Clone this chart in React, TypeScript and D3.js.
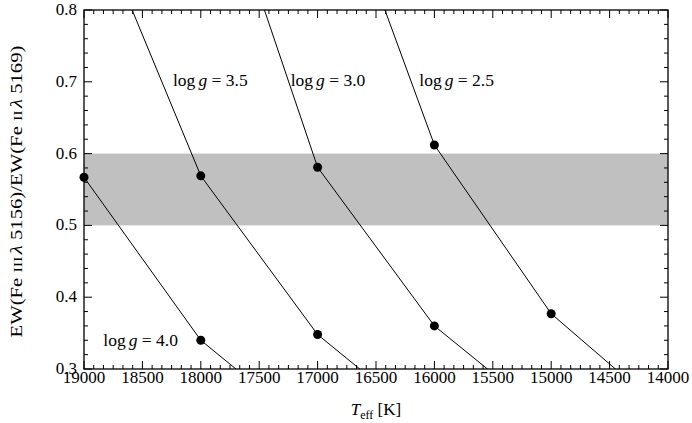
import React from "react";
import * as d3 from "d3";

const W = 692;
const H = 423;
const margin = { left: 84, right: 24, top: 10, bottom: 54 };

// Temperature grid (K) and line ratios for each log g model
const tempsG40 = [20000, 19000, 18000, 17000];
const ratioG40 = [1.02, 0.567, 0.34, 0.207];
const tempsG35 = [19000, 18000, 17000, 16000];
const ratioG35 = [0.962, 0.569, 0.348, 0.215];
const tempsG30 = [18000, 17000, 16000, 15000];
const ratioG30 = [1.062, 0.581, 0.36, 0.228];
const tempsG25 = [17000, 16000, 15000, 14000];
const ratioG25 = [1.056, 0.612, 0.377, 0.237];

const seriesLabels = ["4.0", "3.5", "3.0", "2.5"];
// label anchor in data units (T, ratio)
const labelT = [18835, 18238, 17230, 16129];
const labelR = [0.3315, 0.694, 0.694, 0.694];

const bandLow = 0.5;
const bandHigh = 0.6;

const xTicks = [19000, 18500, 18000, 17500, 17000, 16500, 16000, 15500, 15000, 14500, 14000];
const yTicks = [0.3, 0.4, 0.5, 0.6, 0.7, 0.8];

const FONT = "Liberation Serif";

export default function App() {
  const x = d3.scaleLinear().domain([19000, 14000]).range([margin.left, W - margin.right]);
  const y = d3.scaleLinear().domain([0.3, 0.8]).range([H - margin.bottom, margin.top]);
  const x0 = margin.left, x1 = W - margin.right, y0 = margin.top, y1 = H - margin.bottom;

  const series = [
    { t: tempsG40, r: ratioG40 },
    { t: tempsG35, r: ratioG35 },
    { t: tempsG30, r: ratioG30 },
    { t: tempsG25, r: ratioG25 },
  ];
  const line = d3
    .line<[number, number]>()
    .x((d) => x(d[0]))
    .y((d) => y(d[1]));

  const xMinor: number[] = [];
  for (let i = 0; i <= 60; i++) xMinor.push(19000 - (i * 500) / 6);
  const yMinor: number[] = [];
  for (let i = 0; i <= 25; i++) yMinor.push(0.3 + i * 0.02);

  const fs = 17;

  return (
    <svg
      width={W}
      height={H}
      style={{ position: "fixed", left: 0, top: 0, background: "#fff", fontFamily: FONT }}
    >
      <defs>
        <clipPath id="plotclip">
          <rect x={x0} y={y0} width={x1 - x0} height={y1 - y0} />
        </clipPath>
      </defs>
      <rect x={x0} y={y(bandHigh)} width={x1 - x0} height={y(bandLow) - y(bandHigh)} fill="#c0c0c0" />
      <g clipPath="url(#plotclip)">
        {series.map((s, i) => (
          <path
            key={i}
            d={line(s.t.map((t, j) => [t, s.r[j]] as [number, number])) || ""}
            fill="none"
            stroke="#000"
            strokeWidth={1}
          />
        ))}
      </g>
      {series.map((s, i) =>
        s.t.map((t, j) =>
          t <= 19000 && t >= 14000 && s.r[j] <= 0.8 && s.r[j] >= 0.3 ? (
            <circle key={`${i}-${j}`} cx={x(t)} cy={y(s.r[j])} r={4.5} fill="#000" />
          ) : null
        )
      )}
      {seriesLabels.map((lab, i) => (
        <text key={lab} x={x(labelT[i])} y={y(labelR[i])} fontSize={17.5} fill="#000">
          log<tspan dx={3} fontStyle="italic">g</tspan> = {lab}
        </text>
      ))}
      {/* ticks */}
      <g stroke="#000" strokeWidth={1}>
        {xMinor.map((t, i) => {
          const major = i % 6 === 0;
          const len = major ? 8 : 4;
          return (
            <g key={"xt" + i}>
              <line x1={x(t)} x2={x(t)} y1={y1} y2={y1 - len} />
              <line x1={x(t)} x2={x(t)} y1={y0} y2={y0 + len} />
            </g>
          );
        })}
        {yMinor.map((v, i) => {
          const major = i % 5 === 0;
          const len = major ? 8 : 4;
          return (
            <g key={"yt" + i}>
              <line x1={x0} x2={x0 + len} y1={y(v)} y2={y(v)} />
              <line x1={x1} x2={x1 - len} y1={y(v)} y2={y(v)} />
            </g>
          );
        })}
      </g>
      <rect x={x0} y={y0} width={x1 - x0} height={y1 - y0} fill="none" stroke="#000" strokeWidth={1.3} />
      {xTicks.map((t) => (
        <text key={"xl" + t} x={x(t)} y={y1 + 14} fontSize={fs} textAnchor="middle" fill="#000">
          {t}
        </text>
      ))}
      {yTicks.map((v) => (
        <text key={"yl" + v} x={x0 - 7} y={y(v) + 5} fontSize={fs} textAnchor="end" fill="#000">
          {v.toFixed(1)}
        </text>
      ))}
      <text x={(x0 + x1) / 2} y={415} fontSize={fs} textAnchor="middle" fill="#000">
        <tspan fontStyle="italic">T</tspan>
        <tspan fontSize={12} dy={4}>eff</tspan>
        <tspan dy={-4}> [K]</tspan>
      </text>
      <text
        transform={`translate(22,${(y0 + y1) / 2 + 2}) rotate(-90)`}
        fontSize={17}
        textAnchor="middle"
        textLength={292}
        lengthAdjust="spacingAndGlyphs"
        fill="#000"
      >
        EW(Fe <tspan fontSize={13}>III</tspan>
        <tspan dx={2} fontStyle="italic">λ</tspan> 5156)/EW(Fe{" "}
        <tspan fontSize={13}>II</tspan>
        <tspan dx={2} fontStyle="italic">λ</tspan> 5169)
      </text>
    </svg>
  );
}
